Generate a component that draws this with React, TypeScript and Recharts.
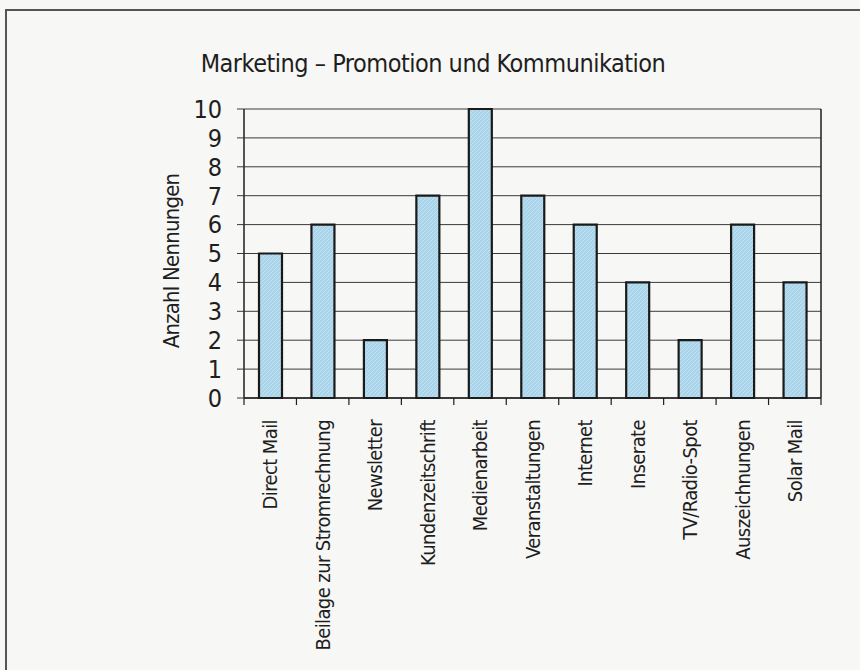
import { BarChart, Bar, XAxis, YAxis, CartesianGrid } from "recharts";

const KATEGORIEN = [
  "Direct Mail",
  "Beilage zur Stromrechnung",
  "Newsletter",
  "Kundenzeitschrift",
  "Medienarbeit",
  "Veranstaltungen",
  "Internet",
  "Inserate",
  "TV/Radio-Spot",
  "Auszeichnungen",
  "Solar Mail",
];
const NENNUNGEN = [5, 6, 2, 7, 10, 7, 6, 4, 2, 6, 4];
const Y_TICKS = [0, 1, 2, 3, 4, 5, 6, 7, 8, 9, 10];

const data = KATEGORIEN.map((name, i) => ({ name, wert: NENNUNGEN[i] }));

const FONT = "'Liberation Sans Narrow', 'DejaVu Sans Condensed', 'Noto Sans', sans-serif";
const INK = "#1e1e1e";

function KategorieTick(props: any) {
  const { x, y, payload, index } = props;
  const half = payload?.offset ?? 26.2;
  const last = index === KATEGORIEN.length - 1;
  return (
    <g>
      <line x1={x - half} x2={x - half} y1={y} y2={y + 7} stroke={INK} strokeWidth={1.2} />
      {last && <line x1={x + half} x2={x + half} y1={y} y2={y + 7} stroke={INK} strokeWidth={1.2} />}
      <text
        x={x}
        y={y + 22}
        transform={`rotate(-90 ${x} ${y + 22})`}
        textAnchor="end"
        dy="0.36em"
        fill={INK}
        fontSize={20}
        letterSpacing={-0.6}
        fontFamily={FONT}
      >
        {payload.value}
      </text>
    </g>
  );
}

export default function App() {
  return (
    <div
      style={{
        position: "absolute",
        left: 0,
        top: 0,
        width: 860,
        height: 670,
        background: "#f7f7f5",
        overflow: "hidden",
        fontFamily: FONT,
        color: INK,
      }}
    >
      <div
        style={{
          position: "absolute",
          left: 5,
          top: 9,
          width: 860,
          height: 670,
          borderTop: "2px solid #555",
          borderLeft: "2px solid #555",
        }}
      />
      <div
        style={{
          position: "absolute",
          left: 0,
          top: 51,
          width: 866,
          textAlign: "center",
          fontSize: 25,
          letterSpacing: -0.5,
          lineHeight: "25px",
        }}
      >
        Marketing – Promotion und Kommunikation
      </div>
      <div
        style={{
          position: "absolute",
          left: 172 - 100,
          top: 261 - 12,
          width: 200,
          height: 24,
          lineHeight: "24px",
          textAlign: "center",
          fontSize: 22,
          letterSpacing: -0.8,
          transform: "rotate(-90deg)",
        }}
      >
        Anzahl Nennungen
      </div>
      <div style={{ position: "absolute", left: 0, top: 0 }}>
        <BarChart
          width={860}
          height={670}
          data={data}
          margin={{ top: 109, right: 38, bottom: 242, left: 0 }}
          barSize={23}
        >
          <defs>
            <pattern id="schraffur" patternUnits="userSpaceOnUse" width="4" height="4">
              <rect width="4" height="4" fill="#a9d4e9" />
              <path d="M0,4 L4,0" stroke="#c2e2f1" strokeWidth="1" />
            </pattern>
          </defs>
          <CartesianGrid vertical={false} stroke="#3a3a3a" strokeWidth={1} />
          <XAxis
            dataKey="name"
            interval={0}
            height={30}
            tickSize={0}
            tickMargin={0}
            tickLine={false}
            axisLine={{ stroke: INK, strokeWidth: 1.5 }}
            tick={<KategorieTick />}
          />
          <YAxis
            width={244}
            domain={[0, 10]}
            ticks={Y_TICKS}
            interval={0}
            tickSize={7}
            tickMargin={15}
            axisLine={{ stroke: INK, strokeWidth: 1.5 }}
            tickLine={{ stroke: "#3a3a3a", strokeWidth: 1 }}
            tick={{ fill: INK, fontSize: 25, fontFamily: FONT }}
          />
          <YAxis
            yAxisId="rand"
            orientation="right"
            width={1}
            domain={[0, 10]}
            tick={false}
            tickLine={false}
            axisLine={{ stroke: INK, strokeWidth: 1.5 }}
          />
          <Bar
            dataKey="wert"
            fill="url(#schraffur)"
            stroke="#1a1a1a"
            strokeWidth={2.2}
            isAnimationActive={false}
          />
        </BarChart>
      </div>
    </div>
  );
}
